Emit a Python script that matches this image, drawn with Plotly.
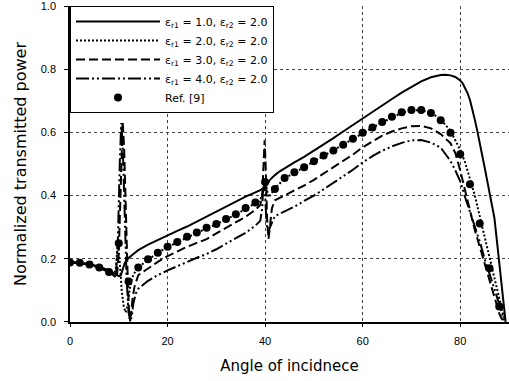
import plotly.graph_objects as go

# ---- data ----
x_e1 = [0,2,4,6,8,9,9.5,10,10.4,10.8,11.2,11.6,12,13,14,16,18,20,22,24,26,28,30,32,34,36,38,39,40,40.5,41,41.5,42,43,44,46,48,50,52,54,56,58,60,62,64,66,68,70,72,74,75,76,77,78,79,80,80.5,81,81.5,82,82.5,83,83.5,84,84.5,85,85.5,86,86.5,87,87.5,88,88.5,89,89.3]
y_e1 = [0.190,0.188,0.183,0.175,0.163,0.155,0.150,0.145,0.147,0.165,0.185,0.195,0.202,0.215,0.227,0.245,0.260,0.274,0.288,0.302,0.318,0.334,0.350,0.365,0.381,0.397,0.410,0.417,0.428,0.437,0.450,0.458,0.465,0.477,0.487,0.505,0.523,0.542,0.562,0.582,0.603,0.624,0.645,0.665,0.686,0.706,0.726,0.745,0.762,0.775,0.779,0.782,0.783,0.781,0.776,0.765,0.756,0.742,0.725,0.703,0.675,0.640,0.605,0.570,0.530,0.490,0.450,0.410,0.370,0.330,0.260,0.190,0.120,0.035,0.0]

x_e2 = [0,2,4,6,8,9,9.4,9.8,10.2,10.6,11,11.4,11.8,12.2,12.6,13,14,16,18,20,22,24,26,28,30,32,34,36,38,39,39.5,39.9,40.3,40.7,41.2,42,44,46,48,50,52,54,56,58,60,62,64,66,68,70,72,74,76,78,80,81,82,83,84,85,86,87,88,88.5,89]
y_e2 = [0.188,0.186,0.181,0.172,0.158,0.150,0.17,0.25,0.19,0.10,0.05,0.03,0.05,0.10,0.13,0.15,0.172,0.197,0.218,0.237,0.252,0.268,0.282,0.296,0.309,0.325,0.340,0.358,0.375,0.385,0.41,0.445,0.425,0.395,0.405,0.422,0.455,0.473,0.490,0.508,0.526,0.543,0.561,0.579,0.598,0.615,0.632,0.648,0.662,0.670,0.671,0.663,0.642,0.605,0.545,0.505,0.455,0.40,0.335,0.27,0.20,0.14,0.07,0.04,0.01]

x_e3 = [0,2,4,6,8,9,9.6,10.0,10.4,10.8,11.1,11.5,11.9,12.2,12.5,12.8,13.2,14,16,18,20,22,24,26,28,30,32,34,36,38,39,39.4,39.7,39.9,40.1,40.4,40.7,41.0,41.4,42,44,46,48,50,52,54,56,58,60,62,64,66,68,70,72,74,76,78,79,80,81,82,83,84,85,86,87,88,88.5,89]
y_e3 = [0.188,0.186,0.181,0.172,0.157,0.148,0.14,0.22,0.42,0.635,0.55,0.32,0.10,0.01,0.02,0.07,0.11,0.148,0.17,0.19,0.208,0.224,0.238,0.25,0.262,0.28,0.298,0.315,0.333,0.355,0.37,0.40,0.5,0.575,0.50,0.33,0.262,0.30,0.36,0.385,0.40,0.415,0.432,0.45,0.47,0.49,0.51,0.53,0.553,0.572,0.59,0.603,0.613,0.62,0.621,0.613,0.595,0.566,0.535,0.48,0.415,0.345,0.29,0.238,0.185,0.133,0.08,0.027,0.01,0.0]

x_e4 = [0,2,4,6,8,9,9.4,9.8,10.2,10.5,10.8,11.2,11.6,12.0,12.4,12.7,13.0,13.5,14,16,18,20,22,24,26,28,30,32,34,36,38,39,39.4,39.7,40.0,40.3,40.6,41.0,41.6,42,44,46,48,50,52,54,56,58,60,62,64,66,68,70,72,74,76,78,79,80,81,82,83,84,85,86,87,88,88.5,89]
y_e4 = [0.188,0.186,0.181,0.172,0.157,0.148,0.14,0.25,0.50,0.63,0.56,0.35,0.14,0.03,0.0,0.02,0.06,0.09,0.105,0.13,0.148,0.163,0.177,0.19,0.203,0.215,0.23,0.248,0.265,0.282,0.305,0.32,0.36,0.46,0.40,0.31,0.285,0.30,0.325,0.335,0.35,0.365,0.383,0.40,0.42,0.44,0.46,0.482,0.505,0.525,0.542,0.556,0.567,0.575,0.576,0.568,0.552,0.51,0.48,0.445,0.395,0.35,0.30,0.255,0.20,0.155,0.105,0.055,0.03,0.005]

x_ref = [0,2,4,6,8,10,12,14,16,18,20,22,24,26,28,30,32,34,36,38,40,42,44,46,48,50,52,54,56,58,60,62,64,66,68,70,72,74,76,78,80,82,84,86,88]
y_ref = [0.188,0.187,0.182,0.172,0.158,0.249,0.128,0.172,0.198,0.219,0.238,0.253,0.270,0.283,0.298,0.310,0.326,0.341,0.361,0.378,0.443,0.421,0.456,0.474,0.490,0.509,0.527,0.543,0.561,0.580,0.599,0.616,0.633,0.650,0.664,0.671,0.671,0.662,0.639,0.599,0.531,0.436,0.312,0.170,0.049]

names = ["ε<sub>r1</sub> = 1.0, ε<sub>r2</sub> = 2.0",
         "ε<sub>r1</sub> = 2.0, ε<sub>r2</sub> = 2.0",
         "ε<sub>r1</sub> = 3.0, ε<sub>r2</sub> = 2.0",
         "ε<sub>r1</sub> = 4.0, ε<sub>r2</sub> = 2.0",
         "Ref. [9]"]

x_ticks = [0, 20, 40, 60, 80]
y_ticks = [0.0, 0.2, 0.4, 0.6, 0.8, 1.0]
y_grid = [0.2, 0.4, 0.6, 0.8]

FONT = "Liberation Sans, Arial, sans-serif"
WIDE = "DejaVu Sans, Liberation Sans, sans-serif"

fig = go.Figure()
fig.add_trace(go.Scatter(x=x_e1, y=y_e1, mode="lines", name=names[0],
                         line=dict(color="black", width=2, dash="solid")))
fig.add_trace(go.Scatter(x=x_e2, y=y_e2, mode="lines", name=names[1],
                         line=dict(color="black", width=2, dash="2px,2px")))
fig.add_trace(go.Scatter(x=x_e3, y=y_e3, mode="lines", name=names[2],
                         line=dict(color="black", width=2, dash="9px,4px")))
fig.add_trace(go.Scatter(x=x_e4, y=y_e4, mode="lines", name=names[3],
                         line=dict(color="black", width=2, dash="13px,3px,2px,3px,2px,3px")))
fig.add_trace(go.Scatter(x=x_ref, y=y_ref, mode="markers", name=names[4],
                         marker=dict(color="black", size=8, symbol="circle")))

fig.update_layout(
    width=509, height=381,
    margin=dict(l=70, r=0, t=6, b=59),
    paper_bgcolor="white", plot_bgcolor="white",
    font=dict(family=FONT, color="black", size=11),
    showlegend=True,
    legend=dict(x=0, y=1, xanchor="left", yanchor="top",
                bgcolor="white", bordercolor="black", borderwidth=1,
                font=dict(size=11, family=WIDE), itemwidth=84,
                tracegroupgap=0),
)
fig.update_xaxes(range=[0, 90], tickvals=x_ticks, ticktext=[str(v) for v in x_ticks],
                 showline=True, linecolor="black", linewidth=2,
                 ticks="outside", ticklen=3, tickcolor="black",
                 showgrid=True, gridcolor="#444", griddash="dot", gridwidth=1,
                 zeroline=False, ticklabelstandoff=5,
                 tickfont=dict(size=11),
                 title=dict(text="Angle of incidnece", font=dict(size=15, family=WIDE), standoff=14))
fig.update_yaxes(range=[-0.0005, 1.0008], tickvals=y_ticks, ticktext=[f"{v:.1f}" for v in y_ticks],
                 showline=True, linecolor="black", linewidth=1.5,
                 ticks="outside", ticklen=4, tickcolor="black",
                 showgrid=False,
                 minor=dict(tickvals=y_grid, showgrid=True, gridcolor="#444",
                            griddash="dot", gridwidth=1, ticks=""),
                 zeroline=False, ticklabelstandoff=6,
                 tickfont=dict(size=11),
                 title=dict(text="Normalized transmitted power", font=dict(size=16, family=WIDE), standoff=10))

fig.write_html("out.html")
